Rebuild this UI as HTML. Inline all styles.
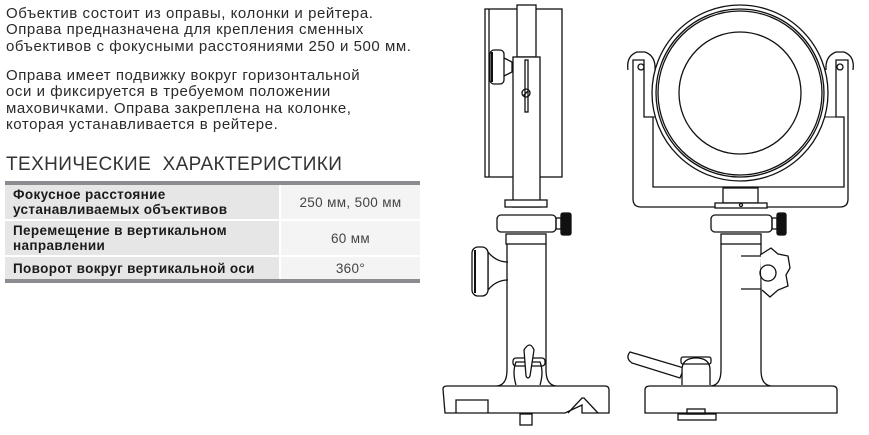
<!DOCTYPE html>
<html><head><meta charset="utf-8"><style>
body{margin:0;width:869px;height:435px;background:#fff;position:relative;overflow:hidden;font-family:"Liberation Sans",sans-serif;color:#2a2a2a}
.p{position:absolute;left:6px;font-size:15px;letter-spacing:0.55px;line-height:16.3px;width:430px;white-space:nowrap}
h2{position:absolute;left:6px;top:154px;margin:0;font-weight:normal;font-size:19px;letter-spacing:0.4px;color:#333}
table{position:absolute;left:5px;top:181px;width:415px;border-collapse:collapse;border-top:4px solid #8a8c90;border-bottom:4px solid #8a8c90;font-size:13.5px;letter-spacing:0.35px}
td{padding:0 8px;border-bottom:2px solid #fff;white-space:nowrap}
td.a{background:#e6e6e6;font-weight:bold;color:#1a1a1a;width:258px;line-height:15px}
td.b{background:#f4f4f4;text-align:center;color:#444;border-left:2px solid #fff}
</style></head><body>
<div class="p" style="top:6px">Объектив состоит из оправы, колонки и рейтера.<br>Оправа предназначена для крепления сменных<br>объективов с фокусными расстояниями 250 и 500 мм.</div>
<div class="p" style="top:68px">Оправа имеет подвижку вокруг горизонтальной<br>оси и фиксируется в требуемом положении<br>маховичками. Оправа закреплена на колонке,<br>которая устанавливается в рейтере.</div>
<h2>ТЕХНИЧЕСКИЕ&nbsp; ХАРАКТЕРИСТИКИ</h2>
<table>
<tr style="height:37px"><td class="a">Фокусное расстояние<br>устанавливаемых объективов</td><td class="b">250 мм, 500 мм</td></tr>
<tr style="height:36px"><td class="a">Перемещение в вертикальном<br>направлении</td><td class="b">60 мм</td></tr>
<tr style="height:25px"><td class="a" style="border-bottom:0">Поворот вокруг вертикальной оси</td><td class="b" style="border-bottom:0">360°</td></tr>
</table>
<svg width="869" height="435" style="position:absolute;left:0;top:0" fill="none" stroke="#111" stroke-width="1.3">
<rect x="485" y="9" width="77" height="168" fill="#fff"/>
<line x1="489" y1="9" x2="489" y2="177"/>
<rect x="517" y="5" width="19" height="52" fill="#fff"/>
<rect x="513" y="57" width="27" height="150" fill="#fff"/>
<rect x="490" y="50" width="14" height="34" rx="4" fill="#fff"/>
<line x1="492" y1="52" x2="492" y2="82" stroke-width="2"/>
<path d="M504 58 L512 62 L512 72 L504 76"/>
<circle cx="526" cy="93" r="4"/><line x1="523" y1="96" x2="529" y2="90"/>
<rect x="525" y="60" width="3" height="52"/>
<rect x="505" y="200" width="42" height="7" fill="#fff"/>
<rect x="497" y="215" width="59" height="17" rx="4" fill="#fff"/>
<rect x="556" y="218" width="5" height="11"/>
<rect x="561" y="213" width="10" height="22" rx="2" fill="#111"/>
<rect x="506" y="234" width="40" height="10" fill="#fff"/>
<path d="M507 244 L507 370 Q507 385 497 386 M546 244 L546 370 Q546 385 556 386"/>
<path d="M508 262 Q496 262 488 252 L488 290 Q496 280 508 280"/>
<rect x="472" y="247" width="16" height="49" rx="6" fill="#fff"/>
<line x1="475" y1="250" x2="475" y2="293" stroke-width="2"/>
<path d="M516 385 Q512 372 516 362 L540 362 Q544 372 540 385"/>
<rect x="513" y="358" width="32" height="8" rx="3"/>
<path d="M524 350 Q530 340 534 350 L530 376 Q528 380 526 376 Z" fill="#fff"/>
<path d="M443 389 Q443 386 447 386 L605 386 Q609 386 609 390 L609 413 L582 413 L582 405 L565 413 L445 413 Z" fill="#fff"/>
<path d="M456 413 L456 400 L488 400 L488 413"/>
<path d="M568 413 L582 398 L584 398 L598 413"/>
<rect x="520" y="414" width="12" height="11"/>
<path d="M633 60 L633 199 Q633 207 641 207 L840 207 Q848 207 848 199 L848 60 L836 60 L836 117 L844 117 L844 187 L653 187 L653 117 L644 117 L644 60 Z" fill="#fff"/>
<path d="M653 117 L836 117" stroke-width="1"/>
<circle cx="641" cy="67" r="3"/><circle cx="840" cy="67" r="3"/>
<path d="M628 70 Q626 56 637 52 L645 52 Q656 56 655 70"/>
<path d="M826 70 Q825 56 836 52 L844 52 Q855 56 853 70"/>
<circle cx="740" cy="93" r="88" fill="#fff"/>
<circle cx="740" cy="93" r="84"/>
<circle cx="740" cy="93" r="82"/>
<circle cx="740" cy="93" r="61"/>
<rect x="723" y="188" width="35" height="15" fill="#fff"/>
<rect x="715" y="203" width="52" height="5" fill="#fff"/>
<circle cx="741" cy="205" r="1.5"/>
<rect x="711" y="215" width="61" height="17" rx="4" fill="#fff"/>
<rect x="772" y="218" width="5" height="11"/>
<rect x="777" y="213" width="9" height="22" rx="2" fill="#111"/>
<rect x="721" y="234" width="40" height="10" fill="#fff"/>
<path d="M721 244 L721 370 Q721 385 711 386 M761 244 L761 370 Q761 385 771 386"/>
<path d="M760 255 L771 248 L778 254 L788 256 L790 268 L786 275 L788 286 L778 290 L770 297 L762 290" fill="#fff"/>
<circle cx="768" cy="273" r="8"/>
<line x1="741" y1="256" x2="761" y2="256"/><line x1="741" y1="289" x2="761" y2="289"/>
<path d="M630 352 Q625 358 632 363 L680 378 L684 368 Z" fill="#fff"/>
<path d="M682 385 L682 370 Q682 358 696 358 Q710 358 710 370 L710 385" fill="#fff"/>
<rect x="681" y="357" width="30" height="7" rx="2"/>
<path d="M645 390 Q645 386 650 386 L832 386 Q837 386 837 390 L837 413 L645 413 Z" fill="#fff"/>
<rect x="678" y="414" width="38" height="6"/>
<rect x="687" y="409" width="18" height="5"/>
</svg>
</body></html>
